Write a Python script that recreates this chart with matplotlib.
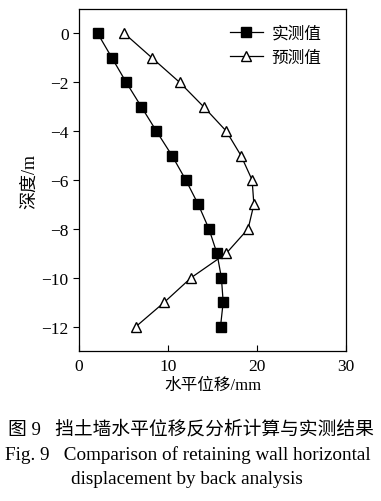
import numpy as np
import matplotlib.pyplot as plt

plt.rcParams['font.family'] = ['Liberation Serif', 'Noto Sans CJK SC']

depth = [0, -1, -2, -3, -4, -5, -6, -7, -8, -9, -10, -11, -12]
measured = [2.1, 3.7, 5.3, 7.0, 8.7, 10.45, 12.0, 13.4, 14.6, 15.5, 16.0, 16.2, 15.9]
predicted = [5.1, 8.2, 11.3, 14.0, 16.55, 18.2, 19.45, 19.65, 19.0, 16.55, 12.6, 9.6, 6.4]

xticks = [0, 10, 20, 30]
yticks = [0, -2, -4, -6, -8, -10, -12]

fig = plt.figure(figsize=(3.81, 5.02), dpi=100)
ax = fig.add_axes([79 / 381, 1 - 352 / 502, 267 / 381, 342 / 502])

ax.plot(measured, depth, color='black', lw=0.9, marker='s', ms=6.5,
        mfc='black', mec='black', label='实测值')
ax.plot(predicted, depth, color='black', lw=0.9, marker='^', ms=7.5,
        mfc='white', mec='black', label='预测值')

ax.set_xlim(0, 30)
ax.set_ylim(-13, 1)
ax.set_xticks(xticks)
ax.set_yticks(yticks)
ax.tick_params(axis='x', direction='in', length=4, width=0.8, labelsize=12.5, pad=5)
ax.tick_params(axis='y', direction='out', length=4, width=0.8, labelsize=12.5)
for s in ax.spines.values():
    s.set_linewidth(0.9)

ax.set_xlabel('水平位移/mm', fontsize=12, labelpad=2)
ax.set_ylabel('深度/m', fontsize=13, labelpad=2)

ax.legend(loc='upper right', frameon=False, fontsize=12, handlelength=2.0,
          borderaxespad=0.6, labelspacing=0.5, handletextpad=0.5,
          bbox_to_anchor=(0.97, 1.0))

fig.text(0.5, 1 - 430 / 502, '图 9   挡土墙水平位移反分析计算与实测结果',
         ha='center', va='center', fontsize=13.5)
fig.text(0.012, 1 - 455 / 502, 'Fig. 9   Comparison of retaining wall horizontal',
         ha='left', va='center', fontsize=13.8)
fig.text(0.49, 1 - 480 / 502, 'displacement by back analysis',
         ha='center', va='center', fontsize=13.8)

fig.savefig('out.png', dpi=100)
